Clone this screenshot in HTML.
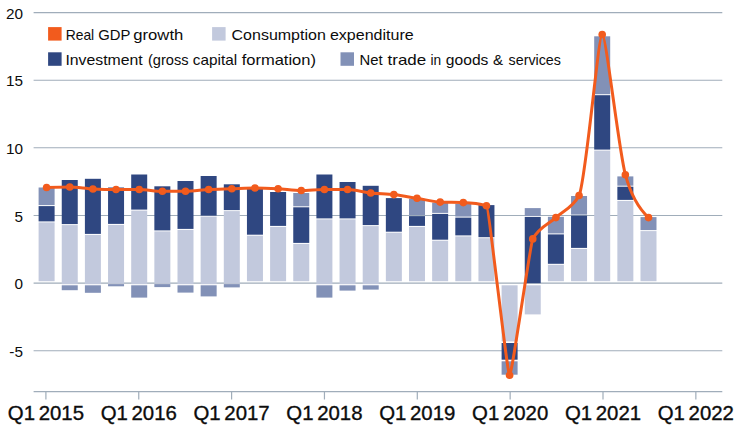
<!DOCTYPE html>
<html><head><meta charset="utf-8"><title>Contributions to real GDP growth</title>
<style>
html,body{margin:0;padding:0;background:#fff;}
body{width:738px;height:425px;overflow:hidden;}
svg{display:block;}
text{font-family:"Liberation Sans",sans-serif;fill:#0c0c0c;}
</style></head><body>
<svg width="738" height="425" viewBox="0 0 738 425">
<rect width="738" height="425" fill="#fff"/>
<g><line x1="33.6" x2="722.3" y1="12.6" y2="12.6" stroke="#a0adba" stroke-width="1.1"/><line x1="33.6" x2="722.3" y1="80.2" y2="80.2" stroke="#a0adba" stroke-width="1.1"/><line x1="33.6" x2="722.3" y1="147.8" y2="147.8" stroke="#a0adba" stroke-width="1.1"/><line x1="33.6" x2="722.3" y1="215.5" y2="215.5" stroke="#a0adba" stroke-width="1.1"/><line x1="33.6" x2="722.3" y1="283.1" y2="283.1" stroke="#a0adba" stroke-width="1.1"/><line x1="33.6" x2="722.3" y1="350.8" y2="350.8" stroke="#a0adba" stroke-width="1.1"/></g>
<g><line x1="33.6" x2="722.3" y1="391.7" y2="391.7" stroke="#a0adba" stroke-width="1.2"/><line x1="45.90" x2="45.90" y1="391.7" y2="399.5" stroke="#a0adba" stroke-width="1.2"/><line x1="138.75" x2="138.75" y1="391.7" y2="399.5" stroke="#a0adba" stroke-width="1.2"/><line x1="231.60" x2="231.60" y1="391.7" y2="399.5" stroke="#a0adba" stroke-width="1.2"/><line x1="324.45" x2="324.45" y1="391.7" y2="399.5" stroke="#a0adba" stroke-width="1.2"/><line x1="417.30" x2="417.30" y1="391.7" y2="399.5" stroke="#a0adba" stroke-width="1.2"/><line x1="510.15" x2="510.15" y1="391.7" y2="399.5" stroke="#a0adba" stroke-width="1.2"/><line x1="603.00" x2="603.00" y1="391.7" y2="399.5" stroke="#a0adba" stroke-width="1.2"/><line x1="695.85" x2="695.85" y1="391.7" y2="399.5" stroke="#a0adba" stroke-width="1.2"/></g>
<g><rect x="38.60" y="222.40" width="16" height="58.80" fill="#c2c9dd"/><rect x="38.60" y="206.10" width="16" height="15.30" fill="#2f4781"/><rect x="38.60" y="187.50" width="16" height="17.60" fill="#8291b7"/><rect x="61.75" y="225.10" width="16" height="59.10" fill="#c2c9dd"/><rect x="61.75" y="180.00" width="16" height="44.10" fill="#2f4781"/><rect x="61.75" y="285.30" width="16" height="4.90" fill="#8291b7"/><rect x="84.90" y="234.90" width="16" height="49.30" fill="#c2c9dd"/><rect x="84.90" y="178.80" width="16" height="55.10" fill="#2f4781"/><rect x="84.90" y="285.30" width="16" height="7.50" fill="#8291b7"/><rect x="108.05" y="224.90" width="16" height="58.70" fill="#c2c9dd"/><rect x="108.05" y="187.50" width="16" height="36.40" fill="#2f4781"/><rect x="108.05" y="284.10" width="16" height="2.20" fill="#8291b7"/><rect x="131.20" y="210.60" width="16" height="73.60" fill="#c2c9dd"/><rect x="131.20" y="174.50" width="16" height="35.10" fill="#2f4781"/><rect x="131.20" y="285.30" width="16" height="12.30" fill="#8291b7"/><rect x="154.35" y="231.40" width="16" height="52.20" fill="#c2c9dd"/><rect x="154.35" y="186.30" width="16" height="44.10" fill="#2f4781"/><rect x="154.35" y="284.10" width="16" height="3.00" fill="#8291b7"/><rect x="177.50" y="229.90" width="16" height="54.30" fill="#c2c9dd"/><rect x="177.50" y="181.00" width="16" height="47.90" fill="#2f4781"/><rect x="177.50" y="285.30" width="16" height="7.30" fill="#8291b7"/><rect x="200.65" y="216.60" width="16" height="67.60" fill="#c2c9dd"/><rect x="200.65" y="176.00" width="16" height="39.60" fill="#2f4781"/><rect x="200.65" y="285.30" width="16" height="11.10" fill="#8291b7"/><rect x="223.80" y="211.10" width="16" height="72.50" fill="#c2c9dd"/><rect x="223.80" y="184.30" width="16" height="25.80" fill="#2f4781"/><rect x="223.80" y="284.10" width="16" height="3.30" fill="#8291b7"/><rect x="246.95" y="235.70" width="16" height="45.50" fill="#c2c9dd"/><rect x="246.95" y="188.00" width="16" height="46.70" fill="#2f4781"/><rect x="270.10" y="226.90" width="16" height="54.30" fill="#c2c9dd"/><rect x="270.10" y="192.00" width="16" height="33.90" fill="#2f4781"/><rect x="293.25" y="243.90" width="16" height="37.30" fill="#c2c9dd"/><rect x="293.25" y="207.30" width="16" height="35.60" fill="#2f4781"/><rect x="293.25" y="193.00" width="16" height="13.30" fill="#8291b7"/><rect x="316.40" y="219.40" width="16" height="64.80" fill="#c2c9dd"/><rect x="316.40" y="174.50" width="16" height="43.90" fill="#2f4781"/><rect x="316.40" y="285.30" width="16" height="12.30" fill="#8291b7"/><rect x="339.55" y="219.40" width="16" height="64.80" fill="#c2c9dd"/><rect x="339.55" y="182.00" width="16" height="36.40" fill="#2f4781"/><rect x="339.55" y="285.30" width="16" height="5.30" fill="#8291b7"/><rect x="362.70" y="226.10" width="16" height="58.10" fill="#c2c9dd"/><rect x="362.70" y="185.80" width="16" height="39.30" fill="#2f4781"/><rect x="362.70" y="285.30" width="16" height="4.30" fill="#8291b7"/><rect x="385.85" y="232.70" width="16" height="48.50" fill="#c2c9dd"/><rect x="385.85" y="198.10" width="16" height="33.60" fill="#2f4781"/><rect x="409.00" y="226.90" width="16" height="54.30" fill="#c2c9dd"/><rect x="409.00" y="216.10" width="16" height="9.80" fill="#2f4781"/><rect x="409.00" y="198.80" width="16" height="16.30" fill="#8291b7"/><rect x="432.15" y="240.70" width="16" height="40.50" fill="#c2c9dd"/><rect x="432.15" y="213.90" width="16" height="25.80" fill="#2f4781"/><rect x="432.15" y="202.60" width="16" height="10.30" fill="#8291b7"/><rect x="455.30" y="236.40" width="16" height="44.80" fill="#c2c9dd"/><rect x="455.30" y="217.60" width="16" height="17.80" fill="#2f4781"/><rect x="455.30" y="203.80" width="16" height="12.80" fill="#8291b7"/><rect x="478.45" y="238.20" width="16" height="43.00" fill="#c2c9dd"/><rect x="478.45" y="205.10" width="16" height="32.10" fill="#2f4781"/><rect x="547.90" y="264.80" width="16" height="16.40" fill="#c2c9dd"/><rect x="547.90" y="234.40" width="16" height="29.40" fill="#2f4781"/><rect x="547.90" y="216.80" width="16" height="16.60" fill="#8291b7"/><rect x="571.05" y="248.90" width="16" height="32.30" fill="#c2c9dd"/><rect x="571.05" y="215.60" width="16" height="32.30" fill="#2f4781"/><rect x="571.05" y="196.00" width="16" height="18.60" fill="#8291b7"/><rect x="594.20" y="150.60" width="16" height="130.60" fill="#c2c9dd"/><rect x="594.20" y="95.20" width="16" height="54.40" fill="#2f4781"/><rect x="594.20" y="36.30" width="16" height="57.90" fill="#8291b7"/><rect x="617.35" y="200.90" width="16" height="80.30" fill="#c2c9dd"/><rect x="617.35" y="186.70" width="16" height="13.20" fill="#2f4781"/><rect x="617.35" y="176.40" width="16" height="9.30" fill="#8291b7"/><rect x="640.50" y="231.10" width="16" height="50.10" fill="#c2c9dd"/><rect x="640.50" y="217.10" width="16" height="13.00" fill="#8291b7"/><rect x="501.60" y="285.30" width="16" height="56.10" fill="#c2c9dd"/><rect x="501.60" y="343.00" width="16" height="16.70" fill="#2f4781"/><rect x="501.60" y="361.30" width="16" height="13.40" fill="#8291b7"/><rect x="524.75" y="216.90" width="16" height="66.30" fill="#2f4781"/><rect x="524.75" y="208.10" width="16" height="7.80" fill="#8291b7"/><rect x="524.75" y="285.30" width="16" height="29.10" fill="#c2c9dd"/></g>
<g><path d="M46.60,187.50C53.16,187.29 63.19,187.00 69.75,187.00C76.31,187.00 86.34,188.72 92.90,189.00C99.46,189.28 109.49,189.50 116.05,189.50C122.61,189.50 132.64,189.50 139.20,189.50C145.76,189.50 155.79,191.30 162.35,191.30C168.91,191.30 178.94,191.30 185.50,191.30C192.06,191.30 202.09,189.85 208.65,189.50C215.21,189.15 225.24,189.01 231.80,188.80C238.36,188.59 248.39,188.00 254.95,188.00C261.51,188.00 271.54,188.45 278.10,188.80C284.66,189.15 294.69,190.50 301.25,190.50C307.81,190.50 317.84,189.50 324.40,189.50C330.96,189.50 340.99,189.50 347.55,189.50C354.11,189.50 364.14,192.28 370.70,193.00C377.26,193.72 387.29,193.85 393.85,194.60C400.41,195.35 410.44,197.24 417.00,198.30C423.56,199.36 433.59,201.82 440.15,202.10C446.71,202.38 456.74,202.32 463.30,202.60C469.86,202.88 479.89,203.99 486.45,205.80C488.76,206.44 507.29,375.30 509.60,375.30C511.92,375.30 530.43,243.16 532.75,238.90C539.31,226.83 549.34,223.75 555.90,217.60C562.46,211.45 572.49,208.02 579.05,195.50C585.61,182.98 598.34,34.50 602.20,34.50C606.06,34.50 618.79,150.39 625.35,174.70C631.91,199.01 641.94,211.52 648.50,217.60" fill="none" stroke="#f25b1d" stroke-width="3.0" stroke-linejoin="round" stroke-linecap="round"/><circle cx="46.60" cy="187.50" r="3.8" fill="#f25b1d"/><circle cx="69.75" cy="187.00" r="3.8" fill="#f25b1d"/><circle cx="92.90" cy="189.00" r="3.8" fill="#f25b1d"/><circle cx="116.05" cy="189.50" r="3.8" fill="#f25b1d"/><circle cx="139.20" cy="189.50" r="3.8" fill="#f25b1d"/><circle cx="162.35" cy="191.30" r="3.8" fill="#f25b1d"/><circle cx="185.50" cy="191.30" r="3.8" fill="#f25b1d"/><circle cx="208.65" cy="189.50" r="3.8" fill="#f25b1d"/><circle cx="231.80" cy="188.80" r="3.8" fill="#f25b1d"/><circle cx="254.95" cy="188.00" r="3.8" fill="#f25b1d"/><circle cx="278.10" cy="188.80" r="3.8" fill="#f25b1d"/><circle cx="301.25" cy="190.50" r="3.8" fill="#f25b1d"/><circle cx="324.40" cy="189.50" r="3.8" fill="#f25b1d"/><circle cx="347.55" cy="189.50" r="3.8" fill="#f25b1d"/><circle cx="370.70" cy="193.00" r="3.8" fill="#f25b1d"/><circle cx="393.85" cy="194.60" r="3.8" fill="#f25b1d"/><circle cx="417.00" cy="198.30" r="3.8" fill="#f25b1d"/><circle cx="440.15" cy="202.10" r="3.8" fill="#f25b1d"/><circle cx="463.30" cy="202.60" r="3.8" fill="#f25b1d"/><circle cx="486.45" cy="205.80" r="3.8" fill="#f25b1d"/><circle cx="509.60" cy="375.30" r="3.8" fill="#f25b1d"/><circle cx="532.75" cy="238.90" r="3.8" fill="#f25b1d"/><circle cx="555.90" cy="217.60" r="3.8" fill="#f25b1d"/><circle cx="579.05" cy="195.50" r="3.8" fill="#f25b1d"/><circle cx="602.20" cy="34.50" r="3.8" fill="#f25b1d"/><circle cx="625.35" cy="174.70" r="3.8" fill="#f25b1d"/><circle cx="648.50" cy="217.60" r="3.8" fill="#f25b1d"/></g>
<g><rect x="48.1" y="27.1" width="13.5" height="13.5" fill="#f25b1d"/><text y="39.6" font-size="14.2"><tspan x="65.67" textLength="28.55" lengthAdjust="spacingAndGlyphs">Real</tspan> <tspan x="98.33" textLength="31.86" lengthAdjust="spacingAndGlyphs">GDP</tspan> <tspan x="133.33" textLength="49.95" lengthAdjust="spacingAndGlyphs">growth</tspan></text><rect x="212.1" y="27.1" width="13.5" height="13.5" fill="#c2c9dd"/><text y="39.6" font-size="14.2"><tspan x="231.54" textLength="94.31" lengthAdjust="spacingAndGlyphs">Consumption</tspan> <tspan x="329.94" textLength="83.76" lengthAdjust="spacingAndGlyphs">expenditure</tspan></text><rect x="48.1" y="52.3" width="13.5" height="13.5" fill="#2f4781"/><text y="64.8" font-size="14.2"><tspan x="65.40" textLength="77.39" lengthAdjust="spacingAndGlyphs">Investment</tspan> <tspan x="147.99" textLength="40.63" lengthAdjust="spacingAndGlyphs">(gross</tspan> <tspan x="192.87" textLength="44.24" lengthAdjust="spacingAndGlyphs">capital</tspan> <tspan x="241.65" textLength="74.36" lengthAdjust="spacingAndGlyphs">formation)</tspan></text><rect x="340.5" y="52.3" width="13.5" height="13.5" fill="#8291b7"/><text y="64.8" font-size="14.2"><tspan x="359.54" textLength="23.06" lengthAdjust="spacingAndGlyphs">Net</tspan> <tspan x="387.57" textLength="38.69" lengthAdjust="spacingAndGlyphs">trade</tspan> <tspan x="430.40" textLength="10.68" lengthAdjust="spacingAndGlyphs">in</tspan> <tspan x="445.88" textLength="42.55" lengthAdjust="spacingAndGlyphs">goods</tspan> <tspan x="493.04" textLength="10.09" lengthAdjust="spacingAndGlyphs">&amp;</tspan> <tspan x="508.63" textLength="52.33" lengthAdjust="spacingAndGlyphs">services</tspan></text></g>
<g><text x="22.9" y="18.7" text-anchor="end" font-size="15.3">20</text><text x="22.9" y="86.3" text-anchor="end" font-size="15.3">15</text><text x="22.9" y="153.9" text-anchor="end" font-size="15.3">10</text><text x="22.9" y="221.6" text-anchor="end" font-size="15.3">5</text><text x="22.9" y="289.2" text-anchor="end" font-size="15.3">0</text><text x="22.9" y="356.9" text-anchor="end" font-size="15.3">-5</text></g>
<g><text x="45.90" y="420.2" text-anchor="middle" font-size="20.2" word-spacing="-2" textLength="76.2" stroke="#111" stroke-width="0.35" lengthAdjust="spacingAndGlyphs">Q1 2015</text><text x="138.75" y="420.2" text-anchor="middle" font-size="20.2" word-spacing="-2" textLength="76.2" stroke="#111" stroke-width="0.35" lengthAdjust="spacingAndGlyphs">Q1 2016</text><text x="231.60" y="420.2" text-anchor="middle" font-size="20.2" word-spacing="-2" textLength="76.2" stroke="#111" stroke-width="0.35" lengthAdjust="spacingAndGlyphs">Q1 2017</text><text x="324.45" y="420.2" text-anchor="middle" font-size="20.2" word-spacing="-2" textLength="76.2" stroke="#111" stroke-width="0.35" lengthAdjust="spacingAndGlyphs">Q1 2018</text><text x="417.30" y="420.2" text-anchor="middle" font-size="20.2" word-spacing="-2" textLength="76.2" stroke="#111" stroke-width="0.35" lengthAdjust="spacingAndGlyphs">Q1 2019</text><text x="510.15" y="420.2" text-anchor="middle" font-size="20.2" word-spacing="-2" textLength="76.2" stroke="#111" stroke-width="0.35" lengthAdjust="spacingAndGlyphs">Q1 2020</text><text x="603.00" y="420.2" text-anchor="middle" font-size="20.2" word-spacing="-2" textLength="76.2" stroke="#111" stroke-width="0.35" lengthAdjust="spacingAndGlyphs">Q1 2021</text><text x="695.85" y="420.2" text-anchor="middle" font-size="20.2" word-spacing="-2" textLength="76.2" stroke="#111" stroke-width="0.35" lengthAdjust="spacingAndGlyphs">Q1 2022</text></g>
</svg>
</body></html>
